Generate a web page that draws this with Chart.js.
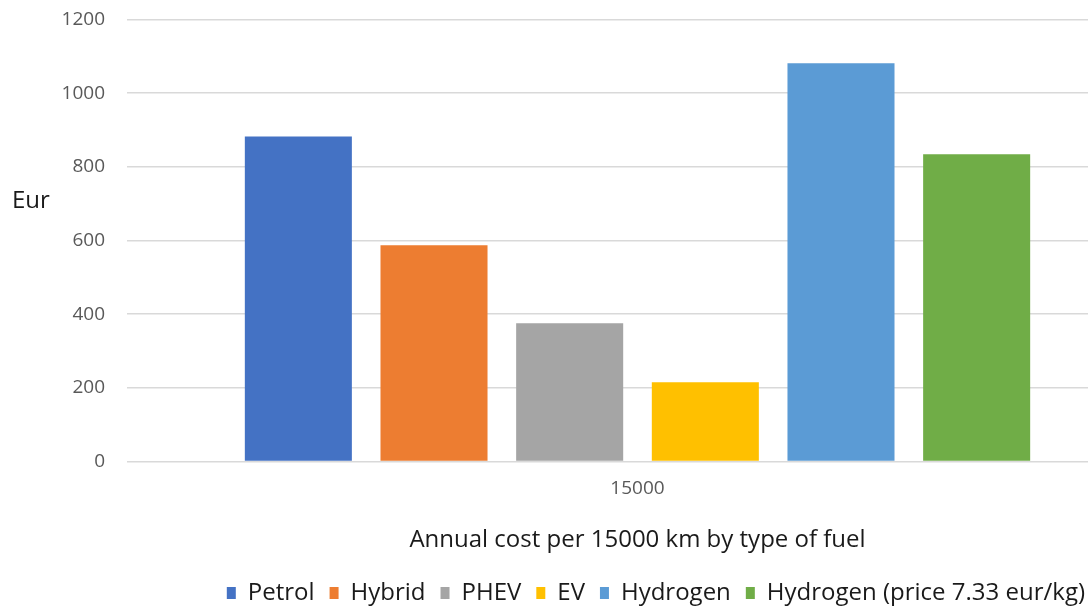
<!DOCTYPE html>
<html>
<head>
<meta charset="utf-8">
<script src="https://cdn.jsdelivr.net/npm/chart.js@4"></script>
<style>
  html, body { margin: 0; padding: 0; background: #fff; overflow: hidden; }
  #wrap { width: 1088px; height: 613px; }
</style>
</head>
<body>
<div id="wrap"><canvas id="chart"></canvas></div>
<script>
const categories = ["15000"]
const seriesNames = ["Petrol", "Hybrid", "PHEV", "EV", "Hydrogen", "Hydrogen (price 7.33 eur/kg)"]
const seriesValues = [882, 587, 375, 215, 1081, 834]
const seriesColors = ["#4472c4", "#ed7d31", "#a5a5a5", "#ffc000", "#5b9bd5", "#70ad47"]
const yTicks = [0, 200, 400, 600, 800, 1000, 1200]

const fontFamily = "'Open Sans', sans-serif"
const tickColor = "#595959"
const textColor = "#1a1a1a"

// horizontal "Eur" label like the Excel axis title
const yTitlePlugin = {
  id: "yTitle",
  afterDraw(chart) {
    const ctx = chart.ctx
    ctx.save()
    ctx.font = `24px ${fontFamily}`
    ctx.fillStyle = textColor
    ctx.textBaseline = "middle"
    ctx.fillText("Eur", 12, 201)
    ctx.restore()
  },
}

new Chart(document.getElementById("chart"), {
  type: "bar",
  data: {
    labels: categories,
    datasets: seriesNames.map((name, i) => ({
      label: name,
      data: [seriesValues[i]],
      backgroundColor: seriesColors[i],
      borderWidth: 0,
      categoryPercentage: 0.9034,
      barPercentage: 0.789,
    })),
  },
  options: {
    responsive: true,
    maintainAspectRatio: false,
    animation: false,
    // negative right padding only pushes the legend to the edge
    layout: { padding: { top: 19.5, right: -12, bottom: -2, left: 0 } },
    plugins: {
      legend: {
        position: "bottom",
        align: "end",
        labels: {
          color: textColor,
          font: { family: fontFamily, size: 24 },
          boxWidth: 9,
          boxHeight: 12,
          padding: 15,
        },
      },
      tooltip: { enabled: false },
    },
    scales: {
      x: {
        grid: { display: false, drawTicks: false },
        border: { display: false },
        ticks: { color: tickColor, font: { family: fontFamily, size: 19 }, padding: 16 },
        title: {
          display: true,
          text: "Annual cost per 15000 km by type of fuel",
          color: textColor,
          font: { family: fontFamily, size: 24 },
          padding: { top: 10, bottom: 11 },
        },
      },
      y: {
        min: 0,
        max: 1200,
        afterFit(scale) {
          scale.width = 187
          scale.paddingTop = 0
          scale.paddingBottom = 0
        },
        afterBuildTicks(scale) { scale.ticks = yTicks.map(v => ({ value: v })) },
        grid: { color: "#d9d9d9", lineWidth: 1.5, tickLength: 60 },
        border: { display: false },
        ticks: {
          color: tickColor,
          font: { family: fontFamily, size: 19 },
          padding: 22,
          callback: v => String(v),
        },
      },
    },
  },
  plugins: [yTitlePlugin],
})
</script>
</body>
</html>
